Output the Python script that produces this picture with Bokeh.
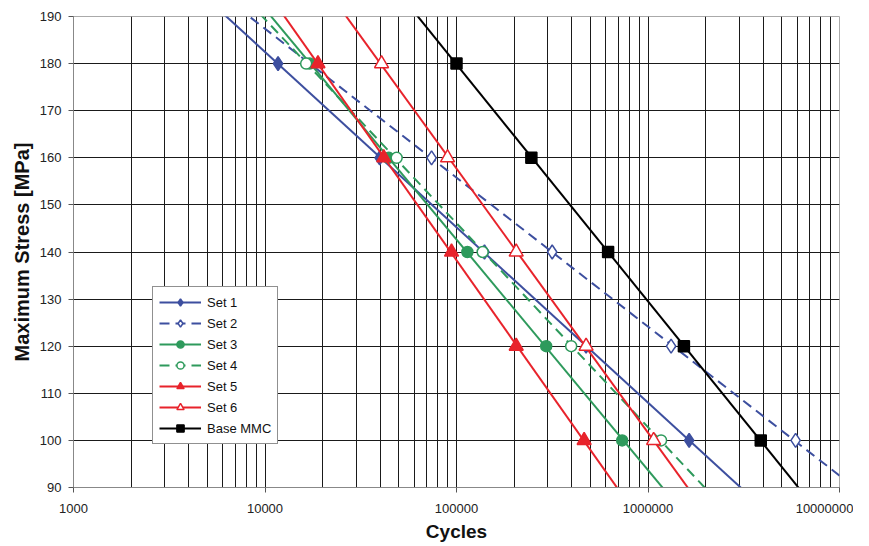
import numpy as np
from bokeh.plotting import figure
from bokeh.models import FixedTicker, PrintfTickFormatter, Legend, LegendItem
from bokeh.embed import file_html
from bokeh.resources import INLINE

stress = [180, 160, 140, 120, 100]

set1_n = [11700, 39700, 140000, 475000, 1640000]
set2_s = [160, 140, 120, 100]
set2_n = [74100, 316000, 1320000, 5900000]
set3_n = [17100, 44300, 114000, 294000, 733000]
set4_n = [16400, 48700, 137000, 397000, 1170000]
set5_n = [18900, 41700, 94200, 205000, 464000]
set6_n = [40600, 89800, 205000, 475000, 1070000]
base_n = [100000, 246000, 619000, 1540000, 3880000]

x_ticks = [1000, 10000, 100000, 1000000, 10000000]
y_ticks = [90, 100, 110, 120, 130, 140, 150, 160, 170, 180, 190]

FONT = "Liberation Sans"
BLUE = "#3D4F9F"
GREEN = "#2E9A5C"
RED = "#E8232B"
BLACK = "#000000"

p = figure(width=853, height=545, x_axis_type="log",
           x_range=(1000, 10000000), y_range=(90, 190),
           output_backend="svg", toolbar_location=None,
           min_border_left=73, min_border_right=14,
           min_border_top=16, min_border_bottom=58)

p.background_fill_color = "white"
p.border_fill_color = "white"
p.outline_line_color = "#aaaaaa"

# grids
minor_pos = []
for d in [1000, 10000, 100000, 1000000]:
    for k in range(1, 10):
        minor_pos.append(d * k)
minor_pos.append(10000000)
p.xgrid.ticker = FixedTicker(ticks=minor_pos)
p.xgrid.grid_line_color = "#1a1a1a"
p.xgrid.grid_line_width = 1
p.ygrid.ticker = FixedTicker(ticks=y_ticks[1:-1])
p.ygrid.grid_line_color = "#1a1a1a"
p.ygrid.grid_line_width = 1

# axes
p.xaxis.ticker = FixedTicker(ticks=x_ticks)
p.xaxis.formatter = PrintfTickFormatter(format="%d")
p.yaxis.ticker = FixedTicker(ticks=y_ticks)
for ax in (p.xaxis, p.yaxis):
    ax.major_label_text_font = FONT
    ax.major_label_text_font_size = "13px"
    ax.major_label_text_color = "#222222"
    ax.axis_line_color = "#888888"
    ax.major_tick_line_color = "#555555"
    ax.major_tick_out = 5
    ax.major_tick_in = 0
    ax.minor_tick_line_color = None
    ax.axis_label_text_font = FONT
    ax.axis_label_text_font_style = "bold"
    ax.axis_label_text_color = "#111111"
p.xaxis.axis_label_text_font_size = "19px"
p.yaxis.axis_label_text_font_size = "20px"
p.xaxis.axis_label = "Cycles"
p.yaxis.axis_label = "Maximum Stress [MPa]"
p.xaxis.axis_label_standoff = 5
p.yaxis.axis_label_standoff = 4
p.xaxis.major_label_standoff = 11
p.yaxis.major_label_standoff = 7


def trend(s_vals, n_vals):
    s = np.array(s_vals, dtype=float)
    ln = np.log10(np.array(n_vals, dtype=float))
    b, a = np.polyfit(s, ln, 1)
    s_line = np.array([80.0, 200.0])
    return 10 ** (a + b * s_line), s_line


series = [
    ("Set 1", stress, set1_n, BLUE, "solid", "diamond", BLUE, 14),
    ("Set 2", set2_s, set2_n, BLUE, "10 6", "diamond", "white", 14),
    ("Set 3", stress, set3_n, GREEN, "solid", "circle", GREEN, 11),
    ("Set 4", stress, set4_n, GREEN, "10 6", "circle", "white", 11),
    ("Set 5", stress, set5_n, RED, "solid", "triangle", RED, 14),
    ("Set 6", stress, set6_n, RED, "solid", "triangle", "white", 14),
    ("Base MMC", stress, base_n, BLACK, "solid", "square", BLACK, 11),
]

items = []
for name, s_vals, n_vals, col, dash, marker, fill, size in series:
    xl, yl = trend(s_vals, n_vals)
    ln = p.line(xl, yl, line_color=col, line_width=2, line_dash=dash)
    sc = p.scatter(n_vals, s_vals, marker=marker, size=size,
                   line_color=col, fill_color=fill, line_width=1.5)
    items.append(LegendItem(label=name, renderers=[ln, sc]))

legend = Legend(items=items, location=(79, 43))
legend.label_text_font = FONT
legend.label_text_font_size = "13px"
legend.label_text_color = "#111111"
legend.border_line_color = "#222222"
legend.border_line_width = 1
legend.background_fill_color = "white"
legend.background_fill_alpha = 1.0
legend.glyph_width = 42
legend.glyph_height = 18
legend.label_height = 18
legend.spacing = 3
legend.padding = 6
legend.margin = 0
legend.label_standoff = 6
p.add_layout(legend, "center")

open("out.html", "w").write(file_html(p, INLINE))
